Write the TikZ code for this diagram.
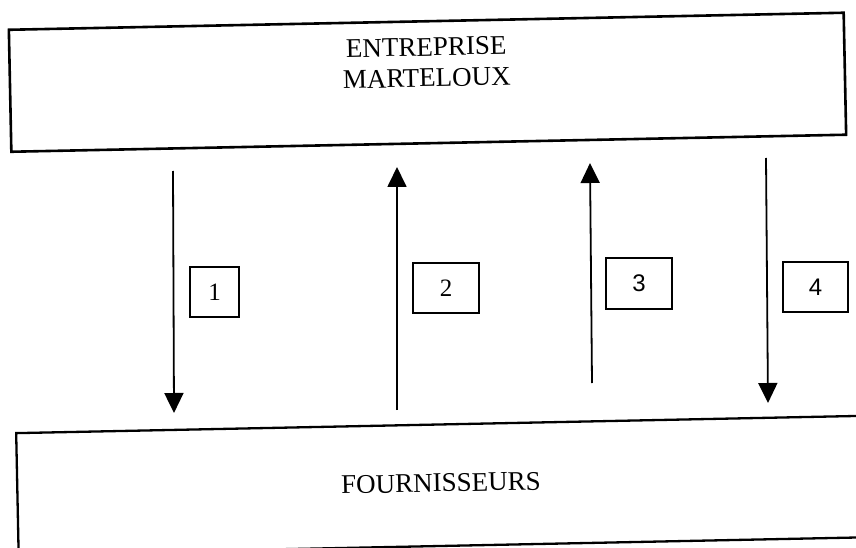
\documentclass[tikz,border=0pt]{standalone}
\usepackage{fontspec}
\setmainfont{Liberation Serif}
\newfontfamily\numsans{Liberation Sans}
\usetikzlibrary{arrows.meta}
\tikzset{
  x=1pt, y=1pt,
  bigbox/.style={draw=black, line width=2.6pt, fill=none, inner sep=0pt, rotate=1.17},
  titletext/.style={align=center, inner sep=0pt, rotate=1.17, font=\fontsize{27}{31}\selectfont},
  numbox/.style={draw=black, line width=1.6pt, inner sep=0pt, font=\fontsize{25}{25}\selectfont},
  sansnum/.style={font=\numsans\fontsize{24}{24}\selectfont},
  flow/.style={line width=1.8pt, -{Triangle[width=19pt,length=20pt]}}
}
\begin{document}
\begin{tikzpicture}
\useasboundingbox (0,0) rectangle (856,547);
\clip (0,0) rectangle (856,547);
% boxes
\node[bigbox, minimum width=835, minimum height=122] (top) at (427.5,464.75) {};
\node[titletext] (toptext) at (426.5,484.5) {ENTREPRISE\\MARTELOUX};
\node[bigbox, anchor=north west, minimum width=852, minimum height=121.5, line width=2.3pt] (bottom) at (15,115) {};
\node[titletext] (bottomtext) at (441,64) {FOURNISSEURS};
% arrow end points
\coordinate (a1s) at (173,376); \coordinate (a1e) at (174,134);
\coordinate (a2s) at (397,137); \coordinate (a2e) at (397,380);
\coordinate (a3s) at (592,164); \coordinate (a3e) at (590,384);
\coordinate (a4s) at (766,389); \coordinate (a4e) at (768,144);
\draw[flow] (a1s) -- (a1e);
\draw[flow] (a2s) -- (a2e);
\draw[flow] (a3s) -- (a3e);
\draw[flow] (a4s) -- (a4e);
% number boxes
\node[numbox, minimum width=49, minimum height=50] (n1) at (214.5,255) {1};
\node[numbox, minimum width=66, minimum height=50] (n2) at (446,259) {2};
\node[numbox, sansnum, minimum width=66, minimum height=51] (n3) at (639,263.5) {3};
\node[numbox, sansnum, minimum width=65, minimum height=50] (n4) at (815.5,260) {4};
\end{tikzpicture}
\end{document}
